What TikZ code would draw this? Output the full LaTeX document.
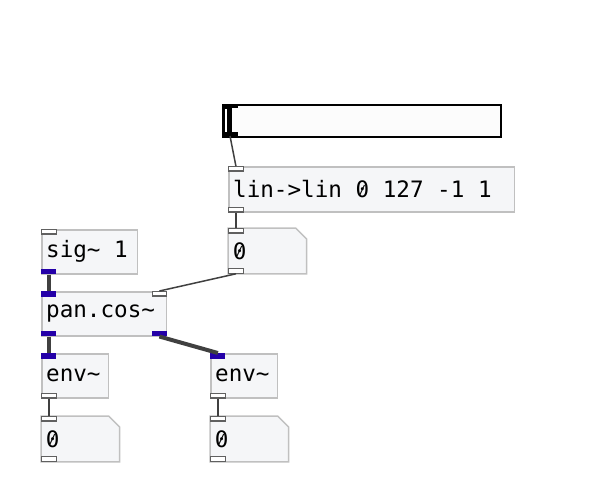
\documentclass[tikz,border=0pt]{standalone}
\usepackage{fontspec}
\newfontfamily\pdfont{DejaVu Sans Mono}
\usetikzlibrary{backgrounds}
\newcommand\slzero{{\ooalign{0\cr\hidewidth\raisebox{0.17em}{\scalebox{0.55}{/}}\hidewidth\cr}}}
\definecolor{boxfill}{HTML}{F5F6F8}
\definecolor{boxline}{HTML}{C0C0C0}
\definecolor{iogray}{HTML}{606060}
\definecolor{pdblue}{HTML}{2400A8}
\definecolor{wire}{HTML}{404040}
\definecolor{sliderfill}{HTML}{FCFCFC}
\begin{document}
\begin{tikzpicture}[x=0.5pt,y=-0.5pt,
  obj/.style={anchor=north west, draw=boxline, fill=boxfill, line width=0.75pt,
    inner xsep=2.2pt, inner ysep=0pt, minimum height=22pt, align=left,
    font=\pdfont\fontsize{11.3pt}{13pt}\selectfont,
    execute at begin node={\spaceskip=0pt\xspaceskip=0pt\relax}},
  numobj/.style={anchor=north west, draw=none, inner xsep=2.2pt, inner ysep=0pt,
    minimum height=22.5pt, align=left, font=\pdfont\fontsize{11.3pt}{13pt}\selectfont},
  numshape/.style={draw=boxline, fill=boxfill, line width=0.75pt},
  ioctl/.style={draw=iogray, fill=white, line width=0.6pt, minimum width=7.3pt,
    minimum height=2.2pt, inner sep=0pt},
  iosig/.style={draw=none, fill=pdblue, minimum width=7.5pt, minimum height=2.6pt, inner sep=0pt},
  cwire/.style={draw=wire, line width=0.75pt},
  swire/.style={draw=wire, line width=2pt}]
\useasboundingbox (0,0) rectangle (609,494);

% slider
\node[draw=black, line width=1pt, fill=sliderfill, anchor=north west,
  minimum width=139pt, minimum height=16pt, inner sep=0pt] (sl) at (222,104) {};
\fill[black] (222,104) rectangle (232,136);
\fill[black] (222,104) rectangle (238,108);
\fill[black] (222,132) rectangle (238,136);
\fill[white] (224.5,108.5) rectangle (227,131.5);
\coordinate (sl-o) at (230,136);

% objects
\node[obj, text width=138.5pt, minimum height=22.5pt] (lin) at (228,166) {lin->lin \slzero{} 127 -1 1};
\node[numobj, text width=34.5pt] (n1) at (228,228) {\slzero};
\node[obj, text width=43.5pt] (sig) at (41,229) {sig\char`~\ 1};
\node[obj, text width=58pt] (pan) at (41,291) {pan.cos\char`~};
\node[obj, text width=29pt] (envL) at (41,353) {env\char`~};
\node[obj, text width=29pt] (envR) at (210,353) {env\char`~};
\node[numobj, text width=34.5pt] (nL) at (41,416) {\slzero};
\node[numobj, text width=34.5pt] (nR) at (210,416) {\slzero};

\begin{scope}[on background layer]
\foreach \n in {n1,nL,nR}{
  \path[numshape] (\n.north west) -- ([xshift=-5.5pt]\n.north east)
    -- ([yshift=-5.5pt]\n.north east) -- (\n.south east) -- (\n.south west) -- cycle;
}
\end{scope}

% iolets
\node[ioctl, anchor=north west] (lin-i) at (lin.north west) {};
\node[ioctl, anchor=south west] (lin-o) at (lin.south west) {};
\node[ioctl, anchor=north west] (n1-i) at (n1.north west) {};
\node[ioctl, anchor=south west] (n1-o) at (n1.south west) {};
\node[ioctl, anchor=north west] (sig-i) at (sig.north west) {};
\node[iosig, anchor=south west] (sig-o) at (sig.south west) {};
\node[iosig, anchor=north west] (pan-i) at (pan.north west) {};
\node[ioctl, anchor=north east] (pan-i2) at (pan.north east) {};
\node[iosig, anchor=south west] (pan-o) at (pan.south west) {};
\node[iosig, anchor=south east] (pan-o2) at (pan.south east) {};
\node[iosig, anchor=north west] (envL-i) at (envL.north west) {};
\node[ioctl, anchor=south west] (envL-o) at (envL.south west) {};
\node[iosig, anchor=north west] (envR-i) at (envR.north west) {};
\node[ioctl, anchor=south west] (envR-o) at (envR.south west) {};
\node[ioctl, anchor=north west] (nL-i) at (nL.north west) {};
\node[ioctl, anchor=south west] (nL-o) at (nL.south west) {};
\node[ioctl, anchor=north west] (nR-i) at (nR.north west) {};
\node[ioctl, anchor=south west] (nR-o) at (nR.south west) {};

% wires
\draw[cwire] (sl-o) -- (lin-i.north);
\draw[cwire] (lin-o.south) -- (n1-i.north);
\draw[cwire] (n1-o.south) -- (pan-i2.north);
\draw[swire] (sig-o.south) -- (pan-i.north);
\draw[swire] (pan-o.south) -- (envL-i.north);
\draw[swire] (pan-o2.south) -- (envR-i.north);
\draw[cwire] (envL-o.south) -- (nL-i.north);
\draw[cwire] (envR-o.south) -- (nR-i.north);
\end{tikzpicture}
\end{document}
